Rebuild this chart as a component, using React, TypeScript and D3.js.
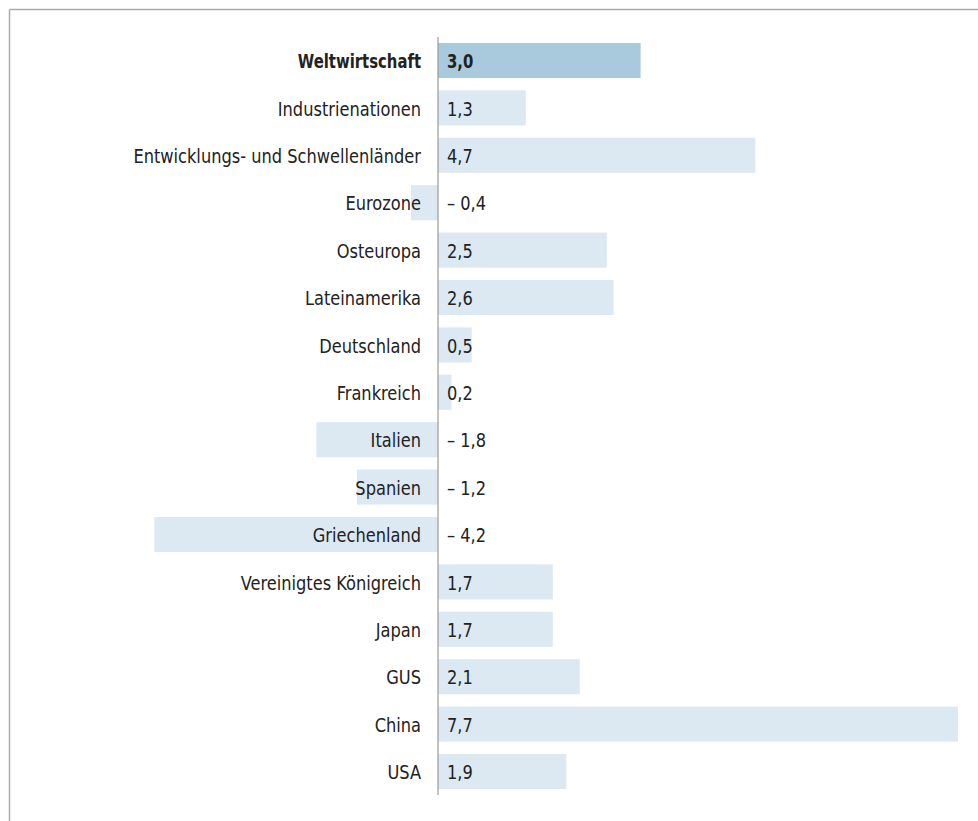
import React from "react";
import * as d3 from "d3";

const categories = [
  "Weltwirtschaft",
  "Industrienationen",
  "Entwicklungs- und Schwellenländer",
  "Eurozone",
  "Osteuropa",
  "Lateinamerika",
  "Deutschland",
  "Frankreich",
  "Italien",
  "Spanien",
  "Griechenland",
  "Vereinigtes Königreich",
  "Japan",
  "GUS",
  "China",
  "USA",
];
const values = [3.0, 1.3, 4.7, -0.4, 2.5, 2.6, 0.5, 0.2, -1.8, -1.2, -4.2, 1.7, 1.7, 2.1, 7.7, 1.9];
const highlighted = ["Weltwirtschaft"];

const W = 978;
const H = 821;
const FONT = "'Liberation Sans Narrow', 'DejaVu Sans Condensed', 'Roboto', sans-serif";
const FS = 19;
const SX = 0.95;
const SX_BOLD = 0.87;

function fmt(v: number): string {
  const s = Math.abs(v).toFixed(1).replace(".", ",");
  return v < 0 ? "\u2013 " + s : s;
}

export default function App() {
  const x = d3.scaleLinear().domain([0, 7.7]).range([438, 958]);
  const y = d3
    .scaleBand<string>()
    .domain(categories)
    .range([36.8, 795.2])
    .paddingInner(0.26)
    .paddingOuter(0.13);
  const x0 = x(0);

  return (
    <svg
      width={W}
      height={H}
      style={{ position: "absolute", left: 0, top: 0, background: "#fff" }}
      fontFamily={FONT}
    >
      <line x1={9.5} y1={9.5} x2={W} y2={9.5} stroke="#aaa" strokeWidth={1.5} />
      <line x1={9.5} y1={9.5} x2={9.5} y2={H} stroke="#aaa" strokeWidth={1.5} />
      {categories.map((c, i) => {
        const v = values[i];
        const hl = highlighted.includes(c);
        const yy = y(c)!;
        const bx = Math.min(x(v), x0);
        const bw = Math.abs(x(v) - x0);
        const cy = yy + y.bandwidth() / 2;
        const sx = hl ? SX_BOLD : SX;
        return (
          <g key={c}>
            <rect x={bx} y={yy} width={bw} height={y.bandwidth()} fill={hl ? "#a9c9dc" : "#dde9f2"} />
            <text
              transform={`translate(421,${cy}) scale(${sx},1)`}
              dy="0.4em"
              textAnchor="end"
              fontSize={FS}
              fontWeight={hl ? "bold" : "normal"}
              fill="#222"
            >
              {c}
            </text>
            <text
              transform={`translate(447,${cy}) scale(${sx},1)`}
              dy="0.4em"
              textAnchor="start"
              fontSize={FS}
              fontWeight={hl ? "bold" : "normal"}
              fill="#222"
            >
              {fmt(v)}
            </text>
          </g>
        );
      })}
      <line x1={x0} y1={37} x2={x0} y2={795} stroke="#999" strokeWidth={1.2} />
    </svg>
  );
}
